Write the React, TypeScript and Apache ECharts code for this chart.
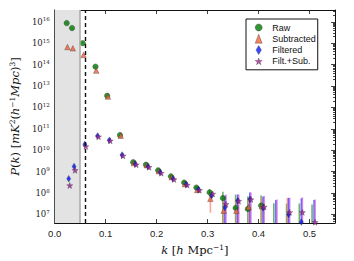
import { useEffect, useRef } from 'react';
import * as echarts from 'echarts';

// wavenumber bins (h/Mpc) of the Raw points; other series are drawn slightly shifted
const kValues = [0.0235, 0.034, 0.055, 0.080, 0.103, 0.128, 0.154, 0.179, 0.203, 0.228, 0.254, 0.278, 0.304, 0.330, 0.355, 0.379, 0.405, 0.430, 0.455, 0.480, 0.505];
const kShift = { raw: 0, sub: 0.0015, filt: 0.004, fs: 0.006 };

const rawP = [8.7e15, 5.1e15, 1.0e15, 8.0e13, 3.5e12, 5.1e10, 2.75e9, 2.1e9, 1.15e9, 6.0e8, 3.1e8, 1.8e8, 1.07e8, 5.8e7, 2.0e7, 1.8e7, 2.6e7, 1.5e6, 2.0e6, 1.5e6, 1.2e6];
const rawErr = [3e14, 2e14, 5e13, 4e12, 2e11, 3e9, 2e8, 2e8, 1.2e8, 8e7, 5e7, 3e7, 4e7, 5.7e7, 6.5e7, 5.0e7, 5.0e7, 3.2e7, 3.0e7, 3.1e7, 2.8e7];

const subP = [6.6e14, 5.75e14, 2.8e14, 5.25e13, 3.2e12, 4.8e10, 2.5e9, 2.0e9, 1.05e9, 5.5e8, 2.6e8, 1.4e8, 5.4e7, 1.5e7, 1.5e7, 2.2e7, 2.4e7, 1.0e6, 2.0e6, 1.0e6, 1.0e6];
const subErr = [3e13, 3e13, 1.5e13, 3e12, 2e11, 3e9, 2e8, 2e8, 1.2e8, 8e7, 5e7, 3e7, 4.2e7, 4e7, 3.5e7, 3.5e7, 3.5e7, 1.0e6, 5.7e7, 1.0e6, 1.0e6];

const filtP = [4.7e8, 1.75e9, 1.9e10, 4.6e10, 2.9e10, 6.0e9, 2.3e9, 1.75e9, 9.3e8, 4.7e8, 2.6e8, 1.5e8, 7.6e7, 2.15e7, 4.4e7, 5.1e7, 2.0e7, 1.5e6, 1.0e7, 4.4e6, 1.5e6];
const filtErr = [5e7, 2e8, 2e9, 4e9, 3e9, 5e8, 2e8, 1.5e8, 9e7, 5e7, 3e7, 2e7, 1.8e7, 5.4e7, 4.1e7, 5.4e7, 4.8e7, 4.6e7, 4.9e7, 5.2e7, 4.6e7];

const fsP = [2.25e8, 1.15e9, 1.5e10, 4.3e10, 2.75e10, 5.5e9, 2.1e9, 1.6e9, 8.5e8, 4.3e8, 2.35e8, 1.35e8, 9.1e7, 3.0e7, 4.2e7, 5.0e7, 2.25e7, 1.5e6, 1.25e7, 1.25e7, 4.3e6];
const fsErr = [3e7, 1.2e8, 1.5e9, 4e9, 3e9, 5e8, 2e8, 1.5e8, 9e7, 5e7, 3e7, 2e7, 2e7, 5.5e7, 4.3e7, 5.5e7, 5.0e7, 4.8e7, 4.8e7, 5.0e7, 4.5e7];

const seriesNames = ['Raw', 'Subtracted', 'Filtered', 'Filt.+Sub.'];
const xTicks = [0, 0.1, 0.2, 0.3, 0.4, 0.5];
const yTickExps = [7, 8, 9, 10, 11, 12, 13, 14, 15, 16];
const foregroundCut = 0.05;
const horizonLine = 0.057;

const Y_MIN = 6.6;
const Y_MAX = 16.55;

const STAR = 'path://M0,-10L2.35,-3.24L9.51,-3.09L3.8,1.24L5.88,8.09L0,4L-5.88,8.09L-3.8,1.24L-9.51,-3.09L-2.35,-3.24Z';
const THIN_DIAMOND = 'path://M0,-10L6,0L0,10L-6,0Z';
const symbols = ['circle', 'triangle', THIN_DIAMOND, STAR];

function minorExps(): number[] {
  const out: number[] = [];
  for (let n = 6; n <= 16; n++) {
    for (let m = 2; m <= 9; m++) {
      const v = n + Math.log10(m);
      if (v > Y_MIN && v < Y_MAX) out.push(v);
    }
  }
  return out;
}

export default function App() {
  const ref = useRef<HTMLDivElement>(null);
  useEffect(() => {
    const chart = echarts.init(ref.current!, null, { renderer: 'svg' });
    const serif = 'DejaVu Serif';
    const sans = 'Liberation Sans';

    const pts = (p: number[], shift: number) => kValues.map((k, i) => [k + shift, Math.log10(p[i])]);
    const bars = (p: number[], e: number[], shift: number) =>
      kValues.map((k, i) => {
        const lo = p[i] - e[i];
        return [k + shift, lo > 0 ? Math.log10(lo) : Y_MIN - 1, Math.log10(p[i] + e[i])];
      });

    const errSeries = (data: number[][], color: string) => ({
      type: 'custom',
      clip: true,
      silent: true,
      data,
      z: 2,
      renderItem: (_p: any, api: any) => {
        const x = api.value(0);
        const lo = Math.max(api.value(1), Y_MIN);
        const hi = Math.min(api.value(2), Y_MAX);
        const a = api.coord([x, lo]);
        const b = api.coord([x, hi]);
        return {
          type: 'line',
          shape: { x1: a[0], y1: a[1], x2: b[0], y2: b[1] },
          style: { stroke: color, lineWidth: 1.6, opacity: 0.75 },
        };
      },
    });

    const markerBorder = { borderColor: '#222', borderWidth: 0.4 };
    const supRich = {
      i: { fontFamily: serif, fontStyle: 'italic', fontSize: 11.5, color: '#111' },
      n: { fontFamily: serif, fontSize: 11.5, color: '#111' },
      su: { fontFamily: serif, fontSize: 7.5, color: '#111', padding: [0, 0, 6, 0] },
    };

    const tickCommon = { inside: true, lineStyle: { color: '#111', width: 0.8 } };
    const minors = minorExps();

    const option: any = {
      animation: false,
      backgroundColor: '#fff',
      grid: { left: 47, right: 19, top: 10, bottom: 34, containLabel: false },
      legend: {
        data: seriesNames.map((name, i) => ({ name, icon: symbols[i] })),
        orient: 'vertical',
        left: 246,
        top: 19,
        padding: [4, 2, 4, 9],
        itemGap: 2,
        itemWidth: 7,
        itemHeight: 9,
        symbolKeepAspect: true,
        borderColor: '#111',
        borderWidth: 1,
        borderRadius: 0,
        backgroundColor: '#fff',
        itemStyle: { borderColor: '#222', borderWidth: 0.4 },
        textStyle: { fontFamily: sans, fontSize: 9, color: '#111', lineHeight: 9, padding: [0, 0, 0, 5] },
      },
      xAxis: [
        {
          type: 'value', min: 0, max: 0.55, position: 'bottom',
          axisLine: { show: true, lineStyle: { color: '#111', width: 1 } },
          axisTick: { ...tickCommon, length: 4, customValues: xTicks },
          axisLabel: { customValues: xTicks, formatter: (v: number) => v.toFixed(1), margin: 5, fontFamily: sans, fontSize: 9.5, color: '#222' },
          splitLine: { show: false },
          name: '{i|k}{n| [}{i|h}{n| Mpc}{su|−1}{n|]}',
          nameLocation: 'middle',
          nameGap: 20,
          nameTextStyle: { rich: supRich },
        },
        {
          type: 'value', min: 0, max: 0.55, position: 'top',
          axisLine: { show: true, lineStyle: { color: '#111', width: 1 } },
          axisTick: { ...tickCommon, length: 4, customValues: xTicks },
          axisLabel: { show: false },
          splitLine: { show: false },
        },
      ],
      yAxis: [
        {
          type: 'value', min: Y_MIN, max: Y_MAX, position: 'left',
          axisLine: { show: true, lineStyle: { color: '#111', width: 1 } },
          axisTick: { ...tickCommon, length: 4, customValues: yTickExps },
          axisLabel: {
            customValues: yTickExps,
            formatter: (v: number) => `{b|10}{s|${v}}`,
            margin: 5,
            rich: {
              b: { fontFamily: serif, fontSize: 8.5, color: '#222' },
              s: { fontFamily: serif, fontSize: 5.5, color: '#222', padding: [0, 0, 5, 0] },
            },
          },
          splitLine: { show: false },
          name: '{i|P}{n|(}{i|k}{n|) [}{i|mK}{su|2}{n|(}{i|h}{su|−1}{i|Mpc}{n|)}{su|3}{n|]}',
          nameLocation: 'middle',
          nameRotate: 90,
          nameGap: 30,
          nameTextStyle: { rich: supRich },
        },
        {
          type: 'value', min: Y_MIN, max: Y_MAX, position: 'left',
          axisLine: { show: false },
          axisTick: { ...tickCommon, length: 2, customValues: minors },
          axisLabel: { show: false },
          splitLine: { show: false },
        },
        {
          type: 'value', min: Y_MIN, max: Y_MAX, position: 'right',
          axisLine: { show: true, lineStyle: { color: '#111', width: 1 } },
          axisTick: { ...tickCommon, length: 4, customValues: yTickExps },
          axisLabel: { show: false },
          splitLine: { show: false },
        },
        {
          type: 'value', min: Y_MIN, max: Y_MAX, position: 'right',
          axisLine: { show: false },
          axisTick: { ...tickCommon, length: 2, customValues: minors },
          axisLabel: { show: false },
          splitLine: { show: false },
        },
      ],
      series: [
        {
          name: 'marks',
          type: 'line',
          data: [],
          silent: true,
          z: 1,
          markArea: {
            silent: true,
            itemStyle: { color: '#e3e3e3' },
            data: [[{ xAxis: 0 }, { xAxis: foregroundCut }]],
          },
          markLine: {
            silent: true,
            symbol: 'none',
            label: { show: false },
            data: [
              { xAxis: foregroundCut, lineStyle: { color: '#a8a8a8', width: 1.5, type: 'solid' } },
              { xAxis: horizonLine, lineStyle: { color: '#111', width: 1.4, type: [4, 3] } },
            ],
          },
        },
        errSeries(bars(rawP, rawErr, kShift.raw), '#3c963c'),
        errSeries(bars(subP, subErr, kShift.sub), '#f48a74'),
        errSeries(bars(filtP, filtErr, kShift.filt), '#3030ff'),
        errSeries(bars(fsP, fsErr, kShift.fs), '#c862e6'),
        {
          name: 'Raw', type: 'scatter', z: 3, symbol: symbols[0], symbolSize: 5.5,
          itemStyle: { color: '#007a00', ...markerBorder },
          data: pts(rawP, kShift.raw),
        },
        {
          name: 'Subtracted', type: 'scatter', z: 3, symbol: symbols[1], symbolSize: 5.5,
          itemStyle: { color: '#f0643c', ...markerBorder },
          data: pts(subP, kShift.sub),
        },
        {
          name: 'Filtered', type: 'scatter', z: 3, symbol: symbols[2], symbolSize: [4, 6.5],
          itemStyle: { color: '#0a1cff', ...markerBorder },
          data: pts(filtP, kShift.filt),
        },
        {
          name: 'Filt.+Sub.', type: 'scatter', z: 3, symbol: symbols[3], symbolSize: 6,
          itemStyle: { color: '#a8259f', ...markerBorder },
          data: pts(fsP, kShift.fs),
        },
      ],
    };
    chart.setOption(option);
    return () => chart.dispose();
  }, []);
  return <div ref={ref} style={{ width: 354, height: 261, position: 'fixed', left: 0, top: 0 }} />;
}
